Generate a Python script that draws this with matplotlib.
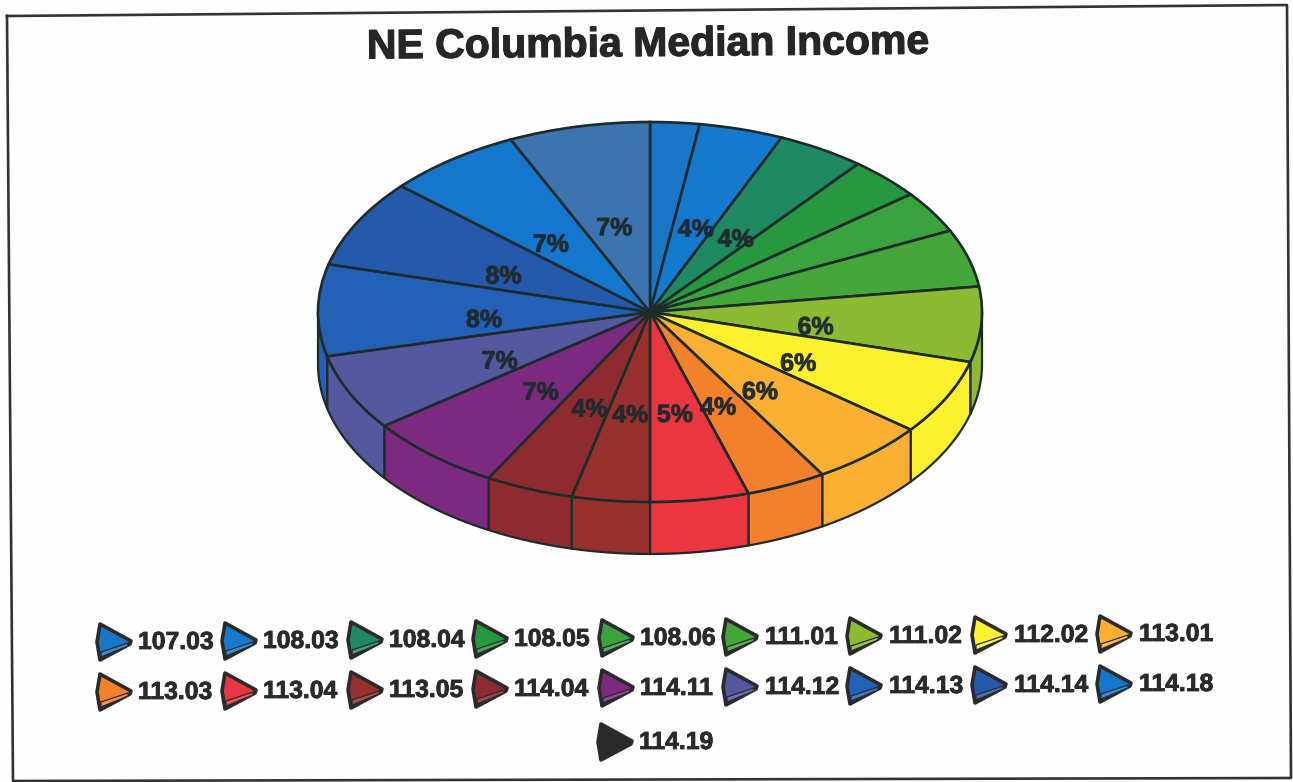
import numpy as np
import matplotlib
matplotlib.use('Agg')
import matplotlib.pyplot as plt
import matplotlib.patheffects as pe
from matplotlib.patches import Polygon

plt.rcParams['font.family'] = ['Liberation Sans', 'DejaVu Sans']

title = 'NE Columbia Median Income'

# tract names, share of the pie and printed label
tracts = ['107.03', '108.03', '108.04', '108.05', '108.06', '111.01', '111.02',
          '112.02', '113.01', '113.03', '113.04', '113.05', '114.04', '114.11',
          '114.12', '114.13', '114.14', '114.18', '114.19']
shares = [2.4, 4.1, 4.3, 3.6, 3.6, 4.9, 6.4, 6.4, 5.7, 3.9, 4.8, 3.8, 4.3, 6.7,
          6.5, 7.8, 7.5, 6.6, 6.9]
labels = ['', '4%', '4%', '', '', '', '6%', '6%', '6%', '4%', '5%', '4%', '4%',
          '7%', '7%', '8%', '8%', '7%', '7%']
colors = ['#1b76c6', '#1579cd', '#1f8a62', '#27983f', '#3aa23e', '#45a63a',
          '#8cba33', '#fdf02f', '#fbb034', '#f3812c', '#ea3640', '#98302e',
          '#8e2b30', '#7b2a80', '#53589f', '#2360b8', '#2559ab', '#1476cc',
          '#3c74b0']
legend_colors = colors[:-1] + ['#2a2a2a']

# pie position in pixels
cx, cy = 650, 312
rx, ry = 332, 190
depth = 52 / ry
edge = '#1d2b2b'
label_color = '#1f2a2e'

fig = plt.figure(figsize=(12.93, 7.82), dpi=100, facecolor='#fefefe')

# pie axes, stretched so the circle becomes the flat ellipse
ax = fig.add_axes([0, 0, 1, 1])
ax.pie(shares, colors=colors, startangle=90, counterclock=False,
       wedgeprops={'edgecolor': edge, 'linewidth': 1.9})
ax.set_aspect('auto')
ax.set_xlim(-cx / rx, (1293 - cx) / rx)
ax.set_ylim((cy - 782) / ry, cy / ry)

# side wall of the front half
bounds = np.concatenate([[0], np.cumsum(shares)]) / np.sum(shares) * 2 * np.pi
for i in range(len(shares)):
    a0 = max(bounds[i], np.pi / 2)
    a1 = min(bounds[i + 1], 3 * np.pi / 2)
    if a1 <= a0:
        continue
    t = np.linspace(a0, a1, 40)
    upper = np.column_stack([np.sin(t), np.cos(t)])
    lower = np.column_stack([np.sin(t[::-1]), np.cos(t[::-1]) - depth])
    ax.add_patch(Polygon(np.vstack([upper, lower]), closed=True, facecolor=colors[i],
                         edgecolor=edge, linewidth=1.6, joinstyle='round', zorder=0.5))

# percent labels sit half way out along each slice
mids = (bounds[:-1] + bounds[1:]) / 2
for m, lab in zip(mids, labels):
    if lab:
        ax.text(0.5 * np.sin(m), 0.5 * np.cos(m) - 9 / ry, lab, ha='center', va='center',
                fontsize=18, fontweight='bold', color=label_color, alpha=0.82, zorder=5,
                path_effects=[pe.withStroke(linewidth=0.7, foreground=label_color)])

# overlay in pixel coordinates for frame, title and legend
ov = fig.add_axes([0, 0, 1, 1], facecolor='none')
ov.set_xlim(0, 1293)
ov.set_ylim(782, 0)
ov.axis('off')

ov.plot([7, 1287, 1291, 13, 7], [16, 5, 778, 781, 16], color='#333333', lw=1.9)
ov.text(648, 45, title, ha='center', va='center', fontsize=29.5, fontweight='bold',
        color='#262626', rotation=0.5, rotation_mode='anchor',
        path_effects=[pe.withStroke(linewidth=0.9, foreground='#262626')])

# legend swatches
body = np.array([[-15, -18], [16, -1], [15, 2], [-15, 18], [-18, 0]])
strip = np.array([[-14, 10], [13, 1], [13, 4], [-14, 15]])


def lighten(c, f=0.15):
    rgb = np.array(matplotlib.colors.to_rgb(c))
    return tuple(rgb + (1 - rgb) * f)


def legend_item(name, color, mx, tx, y, dark=False):
    ov.add_patch(Polygon(body + [mx, y], closed=True, facecolor=color, edgecolor='#2a2a2a',
                         linewidth=2.6, joinstyle='round'))
    if not dark:
        ov.add_patch(Polygon(strip + [mx, y], closed=True, facecolor=lighten(color),
                             edgecolor='#2a2a2a', linewidth=0.9, joinstyle='round'))
    ov.text(tx, y, name, ha='left', va='center', fontsize=17.8, fontweight='bold',
            color='#2a2a2a',
            path_effects=[pe.withStroke(linewidth=0.6, foreground='#2a2a2a')])


marker_x = [115, 240, 366, 491, 617, 741, 865, 990, 1115]
text_x = [138, 263, 389, 514, 640, 765, 889, 1014, 1139]
for row, y0 in enumerate([642, 692]):
    for j in range(9):
        k = row * 9 + j
        legend_item(tracts[k], legend_colors[k], marker_x[j], text_x[j],
                    y0 - 0.008 * (marker_x[j] - 115))
legend_item(tracts[18], legend_colors[18], 616, 639, 742, dark=True)

fig.savefig('out.png', dpi=100, facecolor=fig.get_facecolor())
